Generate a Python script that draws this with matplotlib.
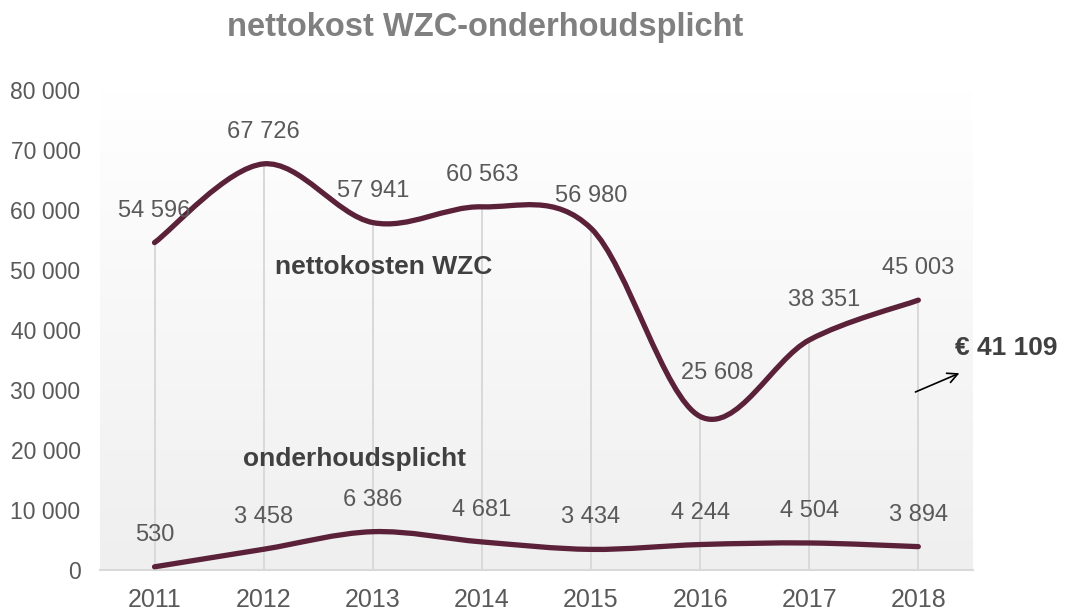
import numpy as np
import matplotlib.pyplot as plt
from matplotlib.path import Path
from matplotlib.patches import PathPatch
from matplotlib.colors import LinearSegmentedColormap

plt.rcParams['font.family'] = ['Liberation Sans', 'DejaVu Sans']

# Data
years = ['2011', '2012', '2013', '2014', '2015', '2016', '2017', '2018']
nettokosten = [54596, 67726, 57941, 60563, 56980, 25608, 38351, 45003]
onderhoud = [530, 3458, 6386, 4681, 3434, 4244, 4504, 3894]
y_ticks = [0, 10000, 20000, 30000, 40000, 50000, 60000, 70000, 80000]

line_col = '#5a2138'
label_col = '#595959'
grid_col = '#d9d9d9'

# a few data labels sit a bit off-centre in the original (offsets in points)
label_nudge = {5: (12, 31), 6: (11, 29)}


def fmt(v):
    return f'{v:,}'.replace(',', ' ')


def smooth_path(xs, ys):
    # Excel-like smoothed line: Catmull-Rom converted to cubic Bezier segments
    pts = np.column_stack([xs, ys]).astype(float)
    n = len(pts)
    verts = [pts[0]]
    codes = [Path.MOVETO]
    for i in range(n - 1):
        p0 = pts[max(i - 1, 0)]
        p1 = pts[i]
        p2 = pts[i + 1]
        p3 = pts[min(i + 2, n - 1)]
        c1 = p1 + (p2 - p0) / 6
        c2 = p2 - (p3 - p1) / 6
        verts += [c1, c2, p2]
        codes += [Path.CURVE4] * 3
    return Path(verts, codes)


fig = plt.figure(figsize=(10.75, 6.1), dpi=100)
ax = fig.add_axes([0.093, 0.0656, 0.812, 0.7864])

x = np.arange(len(years))

# background gradient of the plot area
grad = np.linspace(1.0, 0.0, 256).reshape(-1, 1)
ax.imshow(grad, extent=[0, 1, 0, 1], transform=ax.transAxes, aspect='auto',
          cmap=LinearSegmentedColormap.from_list('g', ['#efefef', '#ffffff']),
          zorder=0)

# drop lines
ax.vlines(x, 0, nettokosten, color=grid_col, lw=1.4, zorder=1)

for k, series in enumerate((nettokosten, onderhoud)):
    patch = PathPatch(smooth_path(x, series), facecolor='none', edgecolor=line_col,
                      lw=3.8, capstyle='round', joinstyle='round', zorder=3)
    ax.add_patch(patch)
    for i, (xi, v) in enumerate(zip(x, series)):
        off = label_nudge.get(i, (0, 23)) if k == 0 else (0, 23)
        ax.annotate(fmt(v), (xi, v), xytext=off, textcoords='offset points',
                    ha='center', va='center', fontsize=17, color=label_col, zorder=4)

ax.set_xlim(-0.5, len(years) - 0.5)
ax.set_ylim(0, 80000)
ax.set_xticks(x, years)
ax.set_yticks(y_ticks, [fmt(t) for t in y_ticks])
ax.tick_params(axis='both', length=0, labelcolor=label_col)
ax.tick_params(axis='y', pad=14, labelsize=16.5)
ax.tick_params(axis='x', pad=13, labelsize=18)
for s in ['left', 'top', 'right']:
    ax.spines[s].set_visible(False)
ax.spines['bottom'].set_color(grid_col)
ax.spines['bottom'].set_linewidth(1.5)

# annotations
ax.text(1.1, 50500, 'nettokosten WZC', fontsize=19, fontweight='bold', color='#404040',
        va='center', ha='left')
ax.text(0.81, 18500, 'onderhoudsplicht', fontsize=19, fontweight='bold', color='#404040',
        va='center', ha='left')
ax.text(7.34, 37000, '€ 41 109', fontsize=19, fontweight='bold', color='#404040',
        va='center', ha='left', clip_on=False)
ax.annotate('', xy=(7.40, 33000), xytext=(6.95, 29500),
            arrowprops=dict(arrowstyle='->', color='black', lw=1.2, mutation_scale=18),
            annotation_clip=False)

fig.text(0.451, 0.955, 'nettokost WZC-onderhoudsplicht', ha='center', va='center',
         fontsize=23.5, fontweight='bold', color='#808080')

fig.savefig('out.png', dpi=100)
